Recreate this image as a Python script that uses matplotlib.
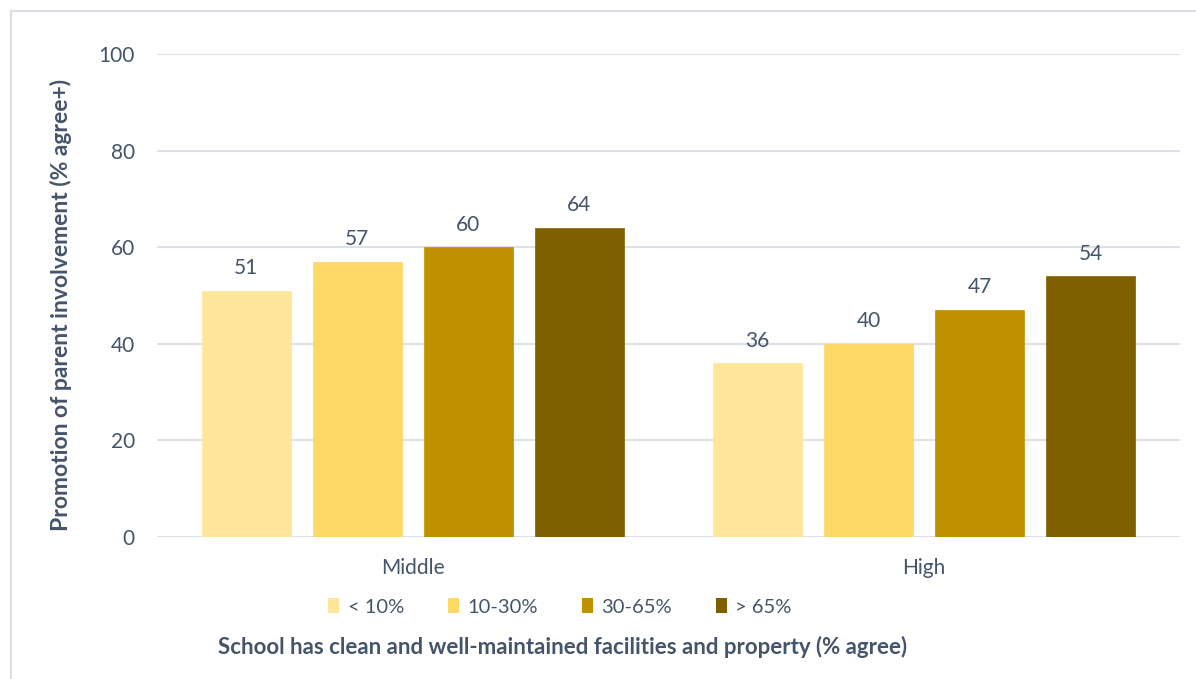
import matplotlib
matplotlib.use("Agg")
import matplotlib.pyplot as plt
from matplotlib.patches import Rectangle, Patch
import numpy as np

categories = ["Middle", "High"]
series_names = ["< 10%", "10-30%", "30-65%", "> 65%"]
values = {
    "< 10%": [51, 36],
    "10-30%": [57, 40],
    "30-65%": [60, 47],
    "> 65%": [64, 54],
}
colors = ["#FFE699", "#FFD966", "#BF9000", "#7F6000"]
yticks = [0, 20, 40, 60, 80, 100]

TXT = "#44546A"
GRID = "#D9DEE6"
plt.rcParams['font.family'] = ['Lato', 'DejaVu Sans']

fig = plt.figure(figsize=(11.96, 6.79), dpi=100)
ax = fig.add_axes([157/1196, 1-537/679, (1180-157)/1196, (537-54)/679])

x = np.arange(len(categories))
bw = 0.174
step = 0.217
offsets = (np.arange(len(series_names)) - 1.5) * step
for i, name in enumerate(series_names):
    bars = ax.bar(x + offsets[i], values[name], width=bw, color=colors[i],
                  label=name, zorder=3, edgecolor=colors[i], linewidth=0.5)
    for b, v in zip(bars, values[name]):
        ax.annotate(f"{v}", (b.get_x() + b.get_width()/2, v), xytext=(0, 9),
                    textcoords="offset points", ha="center", va="bottom",
                    fontsize=15, color=TXT)

ax.set_xlim(-0.5, 1.5)
ax.set_ylim(0, 100)
ax.set_yticks(yticks)
ax.set_xticks(x)
ax.set_xticklabels(categories)
ax.tick_params(axis='both', length=0, labelsize=15, colors=TXT)
ax.tick_params(axis='y', pad=16)
ax.tick_params(axis='x', pad=15)
ax.grid(axis='y', color=GRID, linewidth=1.3, zorder=0)
for s in ax.spines.values():
    s.set_visible(False)

ax.set_ylabel("Promotion of parent involvement (% agree+)", fontsize=16.5,
              fontweight='bold', color=TXT)
ax.yaxis.set_label_coords((72 - 157) / (1180 - 157), (537 - 305) / 483)

handles = [Patch(facecolor=c, edgecolor='none') for c in colors]
leg = fig.legend(handles, series_names, loc='center', bbox_to_anchor=(560/1196, 1-607/679),
                 ncol=4, frameon=False, fontsize=14.5, handlelength=0.55, handleheight=0.75,
                 handletextpad=0.4, columnspacing=2.2, labelcolor=TXT)

fig.text(563/1196, 1-647/679, "School has clean and well-maintained facilities and property (% agree)",
         ha='center', va='center', fontsize=16, fontweight='bold', color=TXT)

fig.patches.append(Rectangle((11/1196, -0.1), 1.2, 1.1 - 11/679, transform=fig.transFigure,
                             fill=False, edgecolor=GRID, linewidth=1.5))

fig.savefig("out.png", dpi=100)
